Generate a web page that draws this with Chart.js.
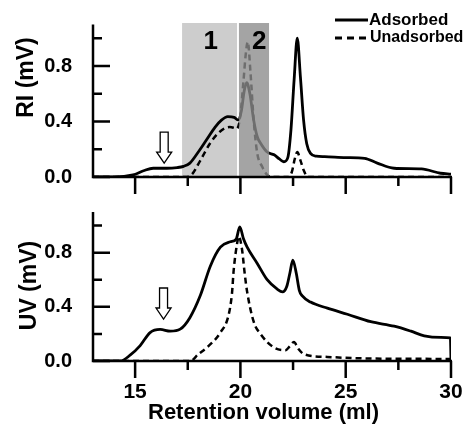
<!DOCTYPE html>
<html>
<head>
<meta charset="utf-8">
<script src="https://cdn.jsdelivr.net/npm/chart.js@4.4.1/dist/chart.umd.min.js"></script>
<style>
  html, body { margin: 0; padding: 0; background: #fff; }
  #wrap { position: relative; width: 468px; height: 426px; }
  canvas { position: absolute; left: 0; }
  #riChart { top: 0; }
  #uvChart { top: 200px; }
</style>
</head>
<body>
<div id="wrap">
  <canvas id="riChart" width="468" height="200"></canvas>
  <canvas id="uvChart" width="468" height="226"></canvas>
</div>
<script>
// ejes comunes
const X_MIN = 13, X_MAX = 30, Y_MAX = 1.1;
const X_TICKS = [15, 17.5, 20, 22.5, 25, 27.5, 30];
const Y_TICKS = [0, 0.2, 0.4, 0.6, 0.8, 1.0];

// RI - adsorbed (solid)
const RI_ADS_X = [13, 14, 14.9, 15.4, 15.86, 16.5, 17.0, 17.3, 17.6, 18.0, 18.4, 18.8, 19.1, 19.4, 19.7, 19.9, 20.05, 20.18, 20.3, 20.45, 20.63, 20.8, 20.95, 21.27, 21.6, 21.85, 22.06, 22.25, 22.4, 22.55, 22.7, 22.85, 23.0, 23.15, 23.33, 23.6, 24.0, 25.0, 25.9, 26.5, 27.3, 28.6, 29.5, 30];
const RI_ADS_Y = [0, 0, 0.015, 0.045, 0.063, 0.063, 0.068, 0.077, 0.1, 0.18, 0.27, 0.36, 0.41, 0.435, 0.43, 0.41, 0.48, 0.62, 0.68, 0.6, 0.41, 0.29, 0.245, 0.18, 0.16, 0.13, 0.11, 0.14, 0.34, 0.7, 1.0, 0.72, 0.41, 0.24, 0.17, 0.15, 0.147, 0.14, 0.135, 0.1, 0.063, 0.058, 0.027, 0.02];

// RI - unadsorbed (dashed)
const RI_UNADS_X = [13, 17.4, 17.7, 18.1, 18.57, 19.05, 19.5, 19.84, 20.0, 20.15, 20.25, 20.35, 20.48, 20.63, 20.8, 21.03, 21.27, 21.5, 22.3, 22.45, 22.58, 22.7, 22.85, 23.0, 23.2, 30];
const RI_UNADS_Y = [0, 0, 0.02, 0.12, 0.245, 0.33, 0.36, 0.35, 0.45, 0.7, 0.88, 0.975, 0.75, 0.41, 0.17, 0.075, 0.015, 0, 0, 0.04, 0.13, 0.18, 0.12, 0.05, 0, 0];

// UV - adsorbed (solid)
const UV_ADS_X = [13, 14.3, 14.76, 15.24, 15.71, 16.19, 16.67, 17.14, 17.6, 18.1, 18.57, 19.05, 19.52, 19.8, 19.97, 20.15, 20.32, 20.8, 21.27, 21.75, 22.0, 22.2, 22.35, 22.49, 22.65, 22.8, 22.94, 23.33, 24.13, 25.08, 26.19, 27.3, 28.1, 28.73, 29.52, 29.97, 30];
const UV_ADS_Y = [0, 0, 0.043, 0.114, 0.21, 0.233, 0.22, 0.235, 0.32, 0.485, 0.7, 0.84, 0.88, 0.9, 0.99, 0.9, 0.84, 0.72, 0.6, 0.53, 0.51, 0.55, 0.65, 0.745, 0.65, 0.52, 0.48, 0.435, 0.39, 0.345, 0.29, 0.257, 0.22, 0.186, 0.174, 0.17, 0];

// UV - unadsorbed (dashed)
const UV_UNADS_X = [13, 17.62, 18.0, 18.41, 19.05, 19.44, 19.6, 19.68, 19.84, 19.92, 20.08, 20.2, 20.32, 20.63, 20.95, 21.59, 22.14, 22.35, 22.54, 22.75, 23.02, 24.13, 25.6, 30];
const UV_UNADS_Y = [0, 0, 0.05, 0.1, 0.21, 0.34, 0.5, 0.67, 0.865, 0.92, 0.82, 0.65, 0.51, 0.29, 0.2, 0.1, 0.08, 0.11, 0.14, 0.09, 0.05, 0.03, 0.02, 0.015];

// zonas sombreadas 1 y 2 (solo RI)
const REGIONS = [
  { label: '1', from: 17.23, to: 19.84, fill: '#cdcdcd', over: false },
  { label: '2', from: 19.93, to: 21.36, fill: 'rgba(139,139,139,0.79)', over: true },
];
const ARROW_RI = { x: 16.38, y: 0.1 };
const ARROW_UV = { x: 16.35, y: 0.31 };

const FONT = '"Liberation Sans", Arial, sans-serif';
Chart.defaults.font.family = FONT;
Chart.defaults.color = '#000';

const pts = (xs, ys) => xs.map((x, i) => ({ x, y: ys[i] }));

function drawArrow(ctx, px, py) {
  ctx.beginPath();
  ctx.moveTo(px, py);
  ctx.lineTo(px - 7.5, py - 11);
  ctx.lineTo(px - 4, py - 11);
  ctx.lineTo(px - 4, py - 31);
  ctx.lineTo(px + 4, py - 31);
  ctx.lineTo(px + 4, py - 11);
  ctx.lineTo(px + 7.5, py - 11);
  ctx.closePath();
  ctx.fillStyle = '#fff';
  ctx.fill();
  ctx.strokeStyle = '#000';
  ctx.lineWidth = 1.3;
  ctx.stroke();
}

function drawRegions(chart, over) {
  const { ctx, scales: { x, y } } = chart;
  const top = y.getPixelForValue(1.11), bottom = y.getPixelForValue(0);
  REGIONS.filter(r => r.over === over).forEach(r => {
    const l = x.getPixelForValue(r.from), rr = x.getPixelForValue(r.to);
    ctx.fillStyle = r.fill;
    ctx.fillRect(l, top, rr - l, bottom - top);
  });
}

const framePlugin = {
  id: 'frame',
  beforeDatasetsDraw(chart, args, opts) {
    if (opts.regions) drawRegions(chart, false);
  },
  afterDatasetsDraw(chart, args, opts) {
    const { ctx, scales: { x, y } } = chart;
    ctx.save();
    if (opts.regions) {
      drawRegions(chart, true);
      ctx.fillStyle = '#000';
      ctx.font = 'bold 26px ' + FONT;
      ctx.textAlign = 'center';
      ctx.textBaseline = 'middle';
      REGIONS.forEach(r => {
        ctx.fillText(r.label, x.getPixelForValue((r.from + r.to) / 2 + (r.label === '1' ? 0.05 : 0.25)), y.getPixelForValue(0.975));
      });
    }
    drawArrow(ctx, x.getPixelForValue(opts.arrow.x), y.getPixelForValue(opts.arrow.y));
    ctx.restore();
  },
  afterDraw(chart, args, opts) {
    const { ctx, scales: { x, y } } = chart;
    const x0 = x.getPixelForValue(X_MIN), x1 = x.getPixelForValue(X_MAX);
    const y0 = y.getPixelForValue(0), y1 = y.getPixelForValue(Y_MAX);
    ctx.save();
    ctx.strokeStyle = '#000';
    ctx.lineWidth = 2.5;
    ctx.beginPath();
    ctx.moveTo(x0, y1);
    ctx.lineTo(x0, y0);
    ctx.lineTo(x1 + 1, y0);
    ctx.stroke();
    ctx.beginPath();
    X_TICKS.forEach(v => {
      const px = x.getPixelForValue(v);
      ctx.moveTo(px, y0);
      ctx.lineTo(px, y0 + (v % 5 === 0 ? 17 : 9));
    });
    Y_TICKS.forEach((v, i) => {
      const py = y.getPixelForValue(v);
      ctx.moveTo(x0, py);
      ctx.lineTo(x0 + (i % 2 === 0 ? 17 : 9), py);
    });
    ctx.stroke();

    // titulo eje Y
    ctx.fillStyle = '#000';
    ctx.font = 'bold 23px ' + FONT;
    ctx.translate(opts.yTitle.x, opts.yTitle.y);
    ctx.rotate(-Math.PI / 2);
    ctx.textAlign = 'center';
    ctx.textBaseline = 'alphabetic';
    ctx.fillText(opts.yTitle.text, 0, 0);
    ctx.setTransform(1, 0, 0, 1, 0, 0);
    ctx.textAlign = 'left';

    if (opts.xTitle) {
      ctx.font = 'bold 22px ' + FONT;
      ctx.fillText(opts.xTitle.text, opts.xTitle.x, opts.xTitle.y);
    }

    if (opts.legend) {
      ctx.lineWidth = 3;
      ctx.beginPath();
      ctx.moveTo(335, 20);
      ctx.lineTo(368, 20);
      ctx.stroke();
      ctx.setLineDash([7, 5]);
      ctx.beginPath();
      ctx.moveTo(335, 38);
      ctx.lineTo(366, 38);
      ctx.stroke();
      ctx.setLineDash([]);
      ctx.textBaseline = 'middle';
      ctx.font = 'bold 17px ' + FONT;
      ctx.fillText('Adsorbed', 369, 20);
      ctx.font = 'bold 16px ' + FONT;
      ctx.fillText('Unadsorbed', 370, 38);
    }
    ctx.restore();
  },
};

function makeChart(id, cfg) {
  return new Chart(document.getElementById(id), {
    type: 'line',
    data: {
      datasets: [
        { label: 'Adsorbed', data: cfg.ads, borderColor: '#000', borderWidth: 2.8, pointRadius: 0, cubicInterpolationMode: 'monotone' },
        { label: 'Unadsorbed', data: cfg.unads, borderColor: '#000', borderWidth: 2.5, borderDash: [6, 4], pointRadius: 0, cubicInterpolationMode: 'monotone' },
      ],
    },
    options: {
      responsive: false,
      animation: false,
      layout: { autoPadding: false, padding: { left: 0, right: 17, top: cfg.padTop, bottom: 0 } },
      plugins: {
        legend: { display: false },
        tooltip: { enabled: false },
        frame: { regions: cfg.regions, arrow: cfg.arrow, yTitle: cfg.yTitle, xTitle: cfg.xTitle, legend: cfg.legend },
      },
      scales: {
        x: {
          type: 'linear', min: X_MIN, max: X_MAX,
          grid: { display: false, drawTicks: true, tickLength: 19 },
          border: { display: false },
          afterBuildTicks: (s) => { s.ticks = X_TICKS.map(v => ({ value: v })); },
          afterFit: (s) => { s.height = cfg.axisH; },
          ticks: {
            display: cfg.showXLabels, padding: 0, autoSkip: false, maxRotation: 0,
            font: { size: 21, weight: 'bold' }, color: '#000',
            callback: (v) => (v % 5 === 0 ? String(v) : null),
          },
        },
        y: {
          type: 'linear', min: 0, max: Y_MAX,
          grid: { display: false, drawTicks: true, tickLength: 21 },
          border: { display: false },
          afterBuildTicks: (s) => { s.ticks = Y_TICKS.map(v => ({ value: v })); },
          afterFit: (s) => { s.width = 93; },
          ticks: {
            padding: 0,
            font: { size: 20, weight: 'bold' }, color: '#000',
            callback: (v, i) => (i % 2 === 0 ? v.toFixed(1) : null),
          },
        },
      },
    },
    plugins: [framePlugin],
  });
}

makeChart('riChart', {
  ads: pts(RI_ADS_X, RI_ADS_Y),
  unads: pts(RI_UNADS_X, RI_UNADS_Y),
  padTop: 24.4, axisH: 23, showXLabels: false,
  regions: true, arrow: ARROW_RI, legend: true,
  yTitle: { text: 'RI (mV)', x: 33, y: 77.5 },
});

makeChart('uvChart', {
  ads: pts(UV_ADS_X, UV_ADS_Y),
  unads: pts(UV_UNADS_X, UV_UNADS_Y),
  padTop: 7, axisH: 65, showXLabels: true,
  regions: false, arrow: ARROW_UV, legend: false,
  yTitle: { text: 'UV (mV)', x: 36, y: 85.5 },
  xTitle: { text: 'Retention volume (ml)', x: 148, y: 219 },
});
</script>
</body>
</html>
